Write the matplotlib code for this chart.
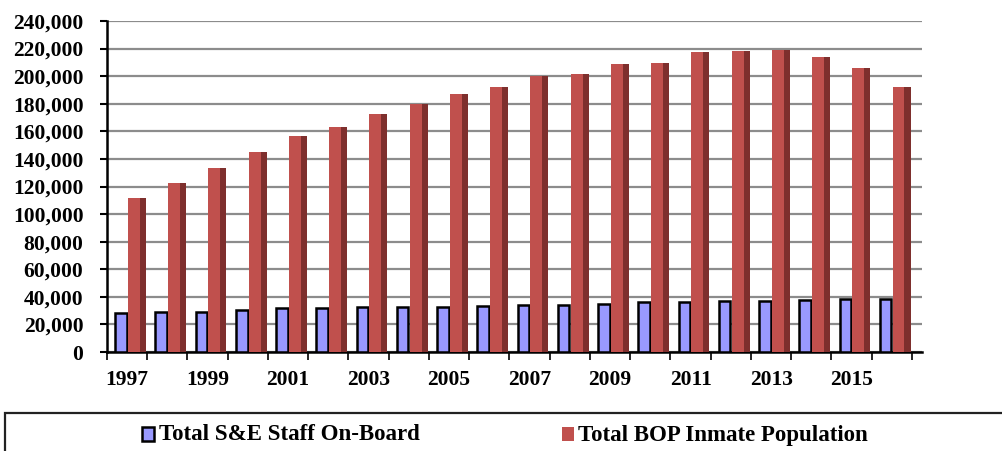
import matplotlib

matplotlib.use("Agg")
import matplotlib.pyplot as plt
import numpy as np
from matplotlib.patches import Rectangle

# Values
YEARS = list(range(1997, 2017))
STAFF = [28000, 28800, 29300, 30700, 32000, 32000, 32500, 32900, 32900, 33400,
         34200, 34400, 35100, 36200, 36100, 36800, 37300, 37800, 38200, 38200]
INMATES = [112000, 122300, 133600, 145000, 156500, 163300, 172400, 179800,
           187300, 192500, 199900, 201600, 208700, 209700, 217700, 218600,
           219200, 214100, 205700, 192100]
Y_TICKS = list(range(0, 240001, 20000))
SERIES_LABELS = ["Total S&E Staff On-Board", "Total BOP Inmate Population"]

BLUE = "#9999FF"
RED = "#C0504D"
RED_SIDE = "#7E2F2D"
GRID = "#8C8C8C"

plt.rcParams["font.family"] = ["Liberation Serif", "DejaVu Serif"]
plt.rcParams["font.weight"] = "bold"

fig = plt.figure(figsize=(10.03, 4.51), dpi=100)
W, H = 1003, 451
ax = fig.add_axes([107 / W, 99 / H, (922 - 107) / W, (430 - 99) / H])

x = np.arange(len(YEARS))
ax.bar(x - 0.154, STAFF, width=0.29, color=BLUE, edgecolor="black",
       linewidth=1.8, zorder=3)
ax.bar(x + 0.17, INMATES, width=0.30, color=RED, linewidth=0, zorder=3)
ax.bar(x + 0.39, INMATES, width=0.15, color=RED_SIDE, linewidth=0, zorder=3)

ax.set_xlim(-0.5, 19.75)
ax.set_ylim(0, 240000)
ax.set_yticks(Y_TICKS)
ax.set_yticklabels([f"{v:,}" for v in Y_TICKS])
ax.yaxis.grid(True, color=GRID, linewidth=1.6, zorder=0)
ax.set_axisbelow(True)

# year labels on odd years, tick marks on category boundaries
ax.set_xticks(x[::2])
ax.set_xticklabels([str(y) for y in YEARS[::2]])
ax.set_xticks(np.arange(-0.5, 20, 1.0), minor=True)
ax.tick_params(axis="x", which="major", length=0, pad=13, labelsize=15.5)
ax.tick_params(axis="x", which="minor", length=6, width=1.2, direction="out")
ax.tick_params(axis="y", length=5, width=1.5, pad=12, labelsize=15.5)

for side in ("top", "right"):
    ax.spines[side].set_visible(False)
for side in ("left", "bottom"):
    ax.spines[side].set_linewidth(1.8)
    ax.spines[side].set_color("black")

# legend box along the bottom
fig.patches.append(Rectangle((5 / W, -0.05), 1.1, (451 - 413) / H + 0.05,
                             transform=fig.transFigure, fill=False,
                             edgecolor="#222222", linewidth=1.6))
fig.patches.append(Rectangle((142 / W, (451 - 441) / H), 12 / W, 14 / H,
                             transform=fig.transFigure, facecolor=BLUE,
                             edgecolor="black", linewidth=1.8))
fig.patches.append(Rectangle((562 / W, (451 - 441) / H), 12 / W, 14 / H,
                             transform=fig.transFigure, facecolor=RED,
                             edgecolor="none"))
fig.text(159 / W, (451 - 435) / H, SERIES_LABELS[0], fontsize=16.5,
         fontweight="bold", va="center", ha="left")
fig.text(578 / W, (451 - 435) / H, SERIES_LABELS[1], fontsize=16.5,
         fontweight="bold", va="center", ha="left")

fig.savefig("out.png", dpi=100)
